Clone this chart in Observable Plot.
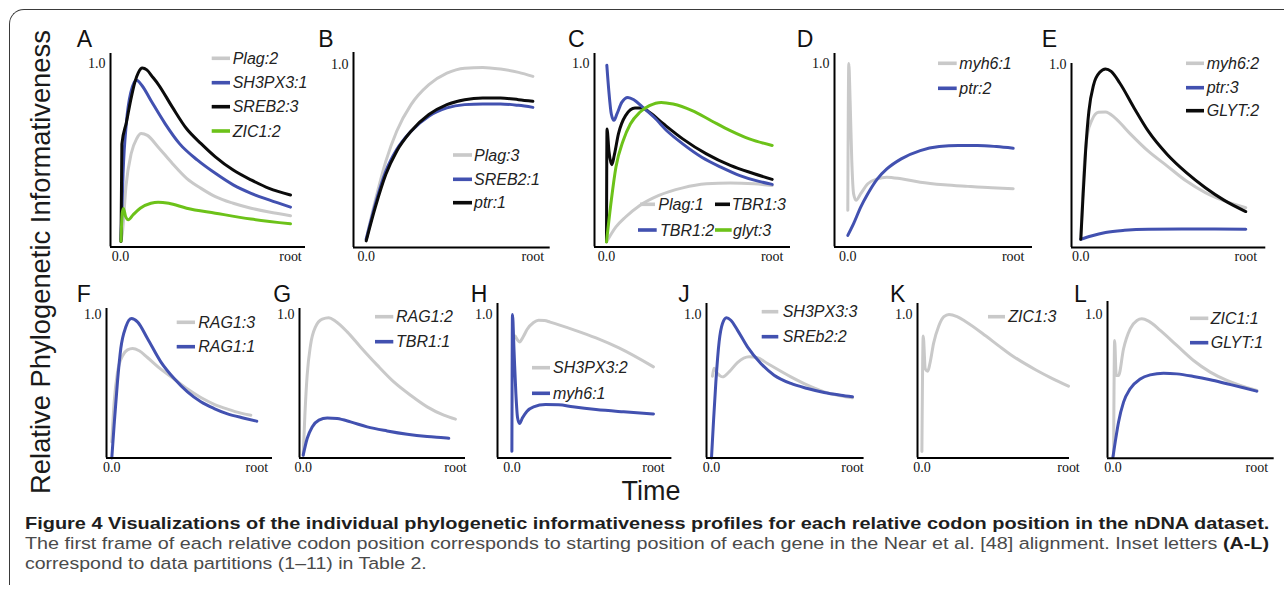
<!DOCTYPE html>
<html><head><meta charset="utf-8">
<script src="https://cdn.jsdelivr.net/npm/d3@7"></script>
<script src="https://cdn.jsdelivr.net/npm/@observablehq/plot@0.6"></script>
<style>
html,body{margin:0;padding:0;background:#fff;}
#root{position:relative;width:1284px;height:594px;overflow:hidden;background:#fff;}
#frame{position:absolute;left:9.2px;top:9.4px;width:1400px;height:576px;border-left:1.6px solid #3a3a3a;border-top:1.6px solid #3a3a3a;border-top-left-radius:15px;box-sizing:border-box;}
#overlay{position:absolute;left:0;top:0;pointer-events:none;}
svg.panel text{font-family:'Liberation Serif','Times New Roman',serif !important;font-size:14px !important;fill:#111;}
</style></head>
<body><div id="root"><div id="frame"></div></div>
<script>
// ---- data: [time (% from 0.0 to root), relative informativeness (% of 1.0)] ----
const A_Plag2 = [[0,3],[1.1,7.6],[3.2,32.9],[6.3,50.9],[9.5,59.0],[12.2,61.8],[15.8,60.8],[22.1,54.5],[30.5,45.5],[38.9,37.4],[47.4,31.9],[55.8,27.4],[66.3,23.8],[76.8,21.1],[87.4,19.0],[100,17.0]];
const A_SH3PX3_1 = [[0.3,4],[1.5,40],[3.5,68],[6,84],[9.4,90.8],[12.6,88],[17.9,79.8],[26.3,67.1],[34.7,56.3],[45.3,47.3],[55.8,40.1],[66.3,33.8],[76.8,29.2],[87.4,25.6],[100,21.7]];
const A_SREB2_3 = [[0.3,3],[0.8,56],[3.5,68],[6,80],[8.5,90],[10.5,95],[12.8,97.5],[15.5,96.5],[19,92.5],[22.1,88.8],[30.5,76.2],[38.9,64.4],[47.4,56.3],[55.8,49.1],[66.3,41.9],[76.8,36.5],[87.4,31.9],[100,28.3]];
const A_ZIC1_2 = [[0.3,3.1],[1.0,18.4],[1.7,21],[3.0,16.6],[4.6,14.8],[7.4,17.5],[11.6,21.1],[17.9,23.8],[22.1,24.4],[28.4,23.8],[38.9,21.1],[55.8,18.4],[76.8,15.2],[100,12.6]];

const B_Plag3 = [[0,4.5],[5.4,25.4],[11.8,47.1],[18.3,63.4],[26.9,77.9],[37.6,88.8],[48.4,95.1],[59.1,97.8],[69.9,98.2],[80.6,97.3],[91.4,95.5],[100,93.3]];
const B_SREB2_1 = [[0,4.5],[5.4,23.4],[11.8,41.7],[18.3,53.4],[26.9,63.4],[37.6,71.6],[48.4,76.1],[59.1,77.9],[69.9,78.3],[80.6,78.3],[91.4,77.5],[100,76.4]];
const B_ptr1 = [[0,3.6],[5.4,21.7],[11.8,39.9],[18.3,52.5],[26.9,63.4],[37.6,72.5],[48.4,77.9],[59.1,80.6],[69.9,81.5],[80.6,81.5],[91.4,80.6],[100,79.7]];

const C_Plag1 = [[0,2.7],[5.7,10.9],[11.5,16.3],[20.1,22.6],[31.6,28.1],[46.0,32.2],[60.3,34.4],[74.7,34.9],[89.1,34.4],[100,33.5]];
const C_TBR1_3 = [[0,3],[0.3,64.3],[1.5,52],[3.2,44.8],[4.7,50],[7.2,61.6],[11.5,71.6],[17.2,75.7],[21.6,75.7],[25.9,73.4],[34.5,67.0],[46.0,58.9],[60.3,50.7],[74.7,44.4],[89.1,39.9],[100,36.8]];
const C_TBR1_2 = [[0.2,99],[1.4,85.1],[2.9,72.5],[4.5,69],[6.3,72.5],[9.2,78.8],[12.9,81.5],[16.7,80.1],[21.6,76.4],[28.7,70.7],[37.4,62.5],[46.0,56.2],[57.5,48.9],[69.0,43.5],[80.5,38.9],[92.0,35.7],[100,34.1]];
const C_glyt3 = [[0,2.7],[2.9,25.4],[5.7,43.5],[10.1,58.0],[14.4,67.0],[20.1,73.4],[25.9,77.0],[33.0,78.8],[40.2,77.9],[51.7,74.3],[63.2,68.8],[74.7,63.4],[86.2,58.9],[100,55.3]];

const D_myh6_1 = [[0,20],[0.6,100],[1.4,79.7],[2.4,47.1],[3.5,29.0],[5,25.4],[7.8,29.0],[12.1,34.4],[17.9,37.1],[23.6,38.0],[32.3,37.1],[43.8,35.3],[58.2,33.9],[72.6,33.0],[87.0,32.2],[100,31.7]];
const D_ptr2 = [[0,6.3],[3.5,12.7],[7.8,21.7],[12.1,29.0],[17.9,37.1],[23.6,42.5],[32.3,48.0],[43.8,52.5],[55.3,54.7],[66.9,55.3],[78.4,55.3],[89.9,54.7],[100,53.8]];

const E_myh6_2 = [[0,4.5],[2.0,43.5],[4.0,61.6],[6.9,69.8],[10.7,73.7],[15.0,73.9],[20.7,70.7],[29.4,62.5],[40.9,52.5],[52.4,44.4],[64.0,36.2],[75.5,29.9],[87.0,25.4],[100,21.7]];
const E_ptr3 = [[0,4.5],[6.3,6.3],[15.0,8.2],[26.5,9.4],[40.9,10.0],[61.1,10.1],[81.3,10.1],[100,10.0]];
const E_GLYT2 = [[0,4.5],[1.2,25.4],[2.9,52.5],[4.9,74.3],[7.8,88.8],[11.5,95.5],[15.0,97.3],[18.4,96.0],[23.6,89.7],[32.3,76.1],[40.9,63.4],[52.4,50.7],[64.0,40.8],[75.5,32.6],[87.0,25.7],[100,19.6]];

const F_RAG1_3 = [[0,11.2],[1.6,38.6],[3.9,59.5],[7.4,71.2],[10.8,75.3],[14.3,76.3],[18.9,74.7],[24.6,70.0],[33.8,61.9],[43.0,55.0],[52.2,48.0],[61.4,42.1],[70.6,37.4],[79.8,34.0],[89.0,31.2],[95.9,29.8]];
const F_RAG1_1 = [[0,0],[1.6,22.8],[3.9,53.0],[6.2,76.3],[9.7,91.4],[13.6,97.2],[17.7,94.9],[24.6,83.3],[33.8,67.0],[43.0,55.3],[52.2,46.0],[61.4,39.1],[70.6,34.4],[79.8,30.7],[91.3,27.7],[100,25.6]];

const G_RAG1_2 = [[0,1.9],[1.1,29.8],[2.6,57.7],[4.8,78.6],[8.1,91.4],[12.5,96.7],[16.8,97.7],[21.2,95.3],[28.9,87.9],[37.6,77.4],[48.6,64.7],[59.5,53.0],[70.5,43.7],[81.4,35.6],[92.3,29.8],[100,27.0]];
const G_TBR1_1 = [[0,1.9],[2.6,13.5],[5.9,21.6],[10.3,26.3],[15.8,27.9],[22.3,27.4],[31.1,25.1],[42.0,21.6],[55.1,18.8],[68.3,16.5],[81.4,14.9],[92.3,14.0],[95.6,13.7]];

const H_SH3PX3_2 = [[2.3,85],[3.8,82.5],[5.4,80.9],[8,84.5],[10.7,89.5],[15.3,94.4],[18.8,96],[23,95.8],[27,94.7],[43.2,89.5],[59.4,83.7],[75.6,76.7],[100,63.5]];
const H_myh6_1 = [[0,4.7],[0.4,100],[1.5,75],[2.8,45],[4,28],[5.4,24],[7.5,28],[10.7,32.6],[15.3,35.6],[23.7,37.2],[33,37],[43,35.6],[59.4,33.7],[78.9,32.1],[100,30.6]];

const J_SH3PX3_3 = [[0.7,57],[1.8,62.5],[4.3,58.8],[7.8,56.5],[12.5,60.0],[18.4,66.5],[26.7,70.5],[32.6,69.8],[39.7,65.8],[56.3,56.5],[68.1,50.7],[79.9,46.0],[91.7,43.3],[100,41.9]];
const J_SREb2_2 = [[0,0],[1.4,25.1],[3.1,53.0],[5.4,80.9],[7.8,93.7],[10.6,97.7],[13.7,96.0],[18.4,89.1],[25.5,77.4],[35.0,65.8],[44.4,57.7],[56.3,51.9],[68.1,48.4],[79.9,45.6],[91.7,43.7],[100,42.6]];

const K_ZIC1_3 = [[0,4.5],[0.9,85],[2.3,62],[4,60.5],[5.5,66],[8,80],[11.5,92],[15,98.5],[18.5,100],[24,98.5],[30,95],[43.7,85],[53.4,77.4],[60.6,72],[77.5,61.5],[88.7,55.5],[100,50]];

const L_ZIC1_1 = [[0.5,1.9],[1.2,82.1],[2.3,57.7],[3.9,57.7],[7.4,76.3],[12.0,90.2],[16.7,96.0],[20.1,97.2],[24.8,95.6],[32.9,89.1],[44.4,78.6],[56.0,68.1],[67.6,60.0],[79.2,54.2],[88.4,50.7],[100,47.2]];
const L_GLYT1 = [[0,0.7],[1.6,11.2],[3.9,25.1],[7.4,39.1],[12.0,48.4],[19.0,55.3],[25.9,58.1],[35.2,59.3],[44.4,58.8],[56.0,57.0],[67.6,54.7],[79.2,51.9],[90.7,49.1],[100,46.7]];

const xTickLabels = ["0.0", "root"];
const yTickLabel = "1.0";
const panelLetters = ["A","B","C","D","E","F","G","H","J","K","L"];
const yTitle = "Relative Phylogenetic Informativeness";
const xTitle = "Time";
const captionTitle = "Figure 4 Visualizations of the individual phylogenetic informativeness profiles for each relative codon position in the nDNA dataset.";
const captionLine2 = "The first frame of each relative codon position corresponds to starting position of each gene in the Near et al. [48] alignment. Inset letters ";
const captionLine2Bold = "(A-L)";
const captionLine3 = "correspond to data partitions (1–11) in Table 2.";

// ---- styles ----
const GRAY = "#c9c9c9", BLUE = "#4251b0", BLACK = "#0b0b0b", GREEN = "#6cc219";

const panels = {
  A: [["Plag:2", GRAY, A_Plag2], ["SH3PX3:1", BLUE, A_SH3PX3_1], ["SREB2:3", BLACK, A_SREB2_3], ["ZIC1:2", GREEN, A_ZIC1_2]],
  B: [["Plag:3", GRAY, B_Plag3], ["SREB2:1", BLUE, B_SREB2_1], ["ptr:1", BLACK, B_ptr1]],
  C: [["Plag:1", GRAY, C_Plag1], ["TBR1:3", BLACK, C_TBR1_3], ["TBR1:2", BLUE, C_TBR1_2], ["glyt:3", GREEN, C_glyt3]],
  D: [["myh6:1", GRAY, D_myh6_1], ["ptr:2", BLUE, D_ptr2]],
  E: [["myh6:2", GRAY, E_myh6_2], ["ptr:3", BLUE, E_ptr3], ["GLYT:2", BLACK, E_GLYT2]],
  F: [["RAG1:3", GRAY, F_RAG1_3], ["RAG1:1", BLUE, F_RAG1_1]],
  G: [["RAG1:2", GRAY, G_RAG1_2], ["TBR1:1", BLUE, G_TBR1_1]],
  H: [["SH3PX3:2", GRAY, H_SH3PX3_2], ["myh6:1", BLUE, H_myh6_1]],
  J: [["SH3PX3:3", GRAY, J_SH3PX3_3], ["SREb2:2", BLUE, J_SREb2_2]],
  K: [["ZIC1:3", GRAY, K_ZIC1_3]],
  L: [["ZIC1:1", GRAY, L_ZIC1_1], ["GLYT:1", BLUE, L_GLYT1]]
};

// layout in page pixels: box [axisX, axisEnd, axisTop, axisY], y of 1.0, x of data start/end, letter [x, baseline]
const layout = {
  A: {box:[110,305,53.3,246.7], one:63.3, data:[120,290], letter:[76.7,46.7], legend:{line:[211.7,230], text:232.7, rows:[58.3,82.7,106.7,131]}},
  B: {box:[353.3,550,51.7,246.7], one:63.3, data:[366,532.7], letter:[318.3,46.7], legend:{line:[453,472], text:474, rows:[155,179.3,202.7]}},
  C: {box:[594,790,53.3,246.7], one:63.3, data:[606,771.7], letter:[568,46.7], legendEntries:[[640,655,658.3,204.3],[715,730,731.7,204.3],[638,656.7,660,230],[715,731.7,733,230]]},
  D: {box:[834,1032,53.3,246.7], one:63.3, data:[847.3,1012.7], letter:[796.7,46.7], legend:{line:[938,956.7], text:959.3, rows:[63.3,88.3]}},
  E: {box:[1070.7,1265,62.7,246.7], one:63.3, data:[1080,1245], letter:[1041.7,46.7], legend:{line:[1186,1204], text:1206.7, rows:[63.3,87.7,110.7]}},
  F: {box:[105.7,271.7,308.3,457.7], one:314.3, data:[111,256], letter:[76.7,301.7], legend:{line:[176.7,195], text:198.3, rows:[322.3,346.7]}},
  G: {box:[299,465,308.3,457.7], one:314.3, data:[302.7,455], letter:[273.3,301.7], legend:{line:[375,393.3], text:396, rows:[316.7,341.7]}},
  H: {box:[497.3,671.7,303.3,457.7], one:314.3, data:[511.7,653.3], letter:[470.7,301.7], legend:{line:[532,550], text:553, rows:[367.7,393.3]}},
  J: {box:[705.7,863.3,303.3,457.7], one:314.3, data:[710.7,851.7], letter:[678.3,301.7], legend:{line:[761.7,778.3], text:782.7, rows:[311.7,336.7]}},
  K: {box:[917.3,1069.3,303.3,457.7], one:314.3, data:[921.7,1068.3], letter:[890,301.7], legend:{line:[988,1005], text:1008.3, rows:[316.7]}},
  L: {box:[1107.3,1274,301,457.7], one:314.3, data:[1112.7,1256.7], letter:[1074,301.7], legend:{line:[1190,1208.3], text:1210.7, rows:[318.3,342.7]}}
};

const root = document.getElementById("root");
const ML = 34, MR = 8, MT = 6, MB = 26;

for (const id of panelLetters) {
  const L = layout[id];
  const [left, right, top, bottom] = L.box;
  const [d0, d1] = L.data;
  const k = 100 / (d1 - d0);
  const xmin = (left - d0) * k, xmax = (right - d0) * k;
  const ymax = 100 * (bottom - top) / (bottom - L.one);
  const marks = panels[id].map(([name, color, data]) =>
    Plot.line(data, {x: d => d[0], y: d => d[1], stroke: color, strokeWidth: 3, curve: "monotone-x"}));
  marks.push(Plot.ruleX([xmin], {stroke: "#000", strokeWidth: 2}));
  marks.push(Plot.ruleY([0], {stroke: "#000", strokeWidth: 2}));
  marks.push(Plot.axisX({ticks: [0, 100], tickSize: 0, tickPadding: 4, label: null,
    tickFormat: d => d === 0 ? xTickLabels[0] : xTickLabels[1], fontFamily: "Liberation Serif", fontSize: 14}));
  marks.push(Plot.axisY({ticks: [100], tickSize: 0, tickPadding: 5, label: null,
    tickFormat: () => yTickLabel, fontFamily: "Liberation Serif", fontSize: 14}));
  const svg = Plot.plot({
    width: right - left + ML + MR, height: bottom - top + MT + MB,
    marginLeft: ML, marginRight: MR, marginTop: MT, marginBottom: MB,
    x: {domain: [xmin, xmax]}, y: {domain: [0, ymax]},
    style: {fontFamily: "Liberation Serif", fontSize: "14px", color: "#111", background: "transparent", overflow: "visible"},
    marks
  });
  svg.classList.add("panel");
  svg.style.position = "absolute";
  svg.style.left = (left - ML) + "px";
  svg.style.top = (top - MT) + "px";
  root.appendChild(svg);
}

// overlay: letters, legends, titles, caption
const ov = d3.select(root).append("svg").attr("id", "overlay").attr("width", 1284).attr("height", 594);
const sans = "'Liberation Sans', Arial, Helvetica, sans-serif";

for (const id of panelLetters) {
  const L = layout[id];
  ov.append("text").attr("x", L.letter[0]).attr("y", L.letter[1])
    .attr("font-family", sans).attr("font-size", 23).attr("fill", "#111").text(id);
  const entries = L.legendEntries || panels[id].map((s, i) => [L.legend.line[0], L.legend.line[1], L.legend.text, L.legend.rows[i]]);
  panels[id].forEach(([name, color], i) => {
    const [x1, x2, tx, y] = entries[i];
    ov.append("line").attr("x1", x1).attr("x2", x2).attr("y1", y).attr("y2", y)
      .attr("stroke", color).attr("stroke-width", 3.6);
    ov.append("text").attr("x", tx).attr("y", y + 5.7)
      .attr("font-family", sans).attr("font-style", "italic").attr("font-size", 16)
      .attr("fill", "#222").text(name);
  });
}

function fitWidth(sel, target) {
  const w = sel.node().getComputedTextLength();
  return w > 0 ? target / w : 1;
}

const yt = ov.append("text").attr("text-anchor", "middle").attr("font-family", sans)
  .attr("font-size", 27).attr("fill", "#1a1a1a").text(yTitle);
yt.attr("transform", `translate(50,262) rotate(-90) scale(${fitWidth(yt, 464)},1)`);

const xt = ov.append("text").attr("font-family", sans).attr("font-size", 28).attr("fill", "#1a1a1a").text(xTitle);
xt.attr("transform", `translate(621.5,499.5) scale(${fitWidth(xt, 59)},1)`);

const capFont = "'Liberation Sans Narrow', 'Liberation Sans', Arial, sans-serif";
const c1 = ov.append("text").attr("font-family", capFont).attr("font-weight", 700)
  .attr("font-size", 17).attr("fill", "#1e1e1e").text(captionTitle);
c1.attr("transform", `translate(25,529.3) scale(${fitWidth(c1, 1245)},1)`);

const c2 = ov.append("text").attr("font-family", capFont).attr("font-size", 17).attr("fill", "#4a4a4a");
c2.append("tspan").text(captionLine2);
c2.append("tspan").attr("font-weight", 700).attr("fill", "#1e1e1e").text(captionLine2Bold);
c2.attr("transform", `translate(25,549.3) scale(${fitWidth(c2, 1245)},1)`);

const c3 = ov.append("text").attr("font-family", capFont).attr("font-size", 17).attr("fill", "#4a4a4a").text(captionLine3);
c3.attr("transform", `translate(25,568.8) scale(${fitWidth(c3, 402)},1)`);
</script>
</body></html>
